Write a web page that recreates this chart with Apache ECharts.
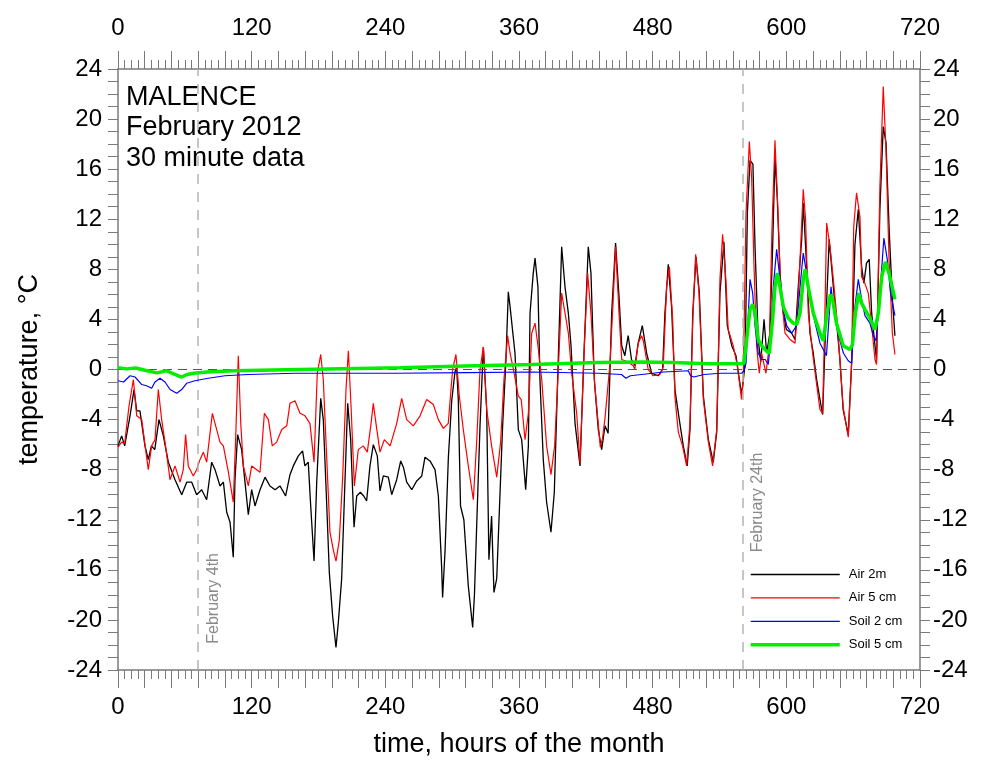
<!DOCTYPE html>
<html>
<head>
<meta charset="utf-8">
<script src="https://cdn.jsdelivr.net/npm/echarts@6/dist/echarts.min.js"></script>
<style>
  html, body { margin: 0; padding: 0; background: #fff; }
  #chart { width: 992px; height: 763px; }
</style>
</head>
<body>
<div id="chart"></div>
<script>
// Malence station, February 2012, 30 minute readings: [hour of month, °C]
const air2m = [[0,-6.1],[3.3,-5.3],[6,-6.1],[10.8,-3.7],[14.4,-1.6],[16.8,-3.3],[19.7,-3.3],[24.2,-6.1],[27.2,-7.2],[30,-6.1],[33,-6.4],[36.8,-4.0],[40.7,-5.3],[45.2,-7.4],[51.2,-8.8],[57.2,-10.0],[61.7,-9.0],[66.2,-9.0],[70.6,-10.0],[75.1,-9.6],[79.6,-10.4],[84.1,-7.4],[87.1,-8.0],[91.6,-9.3],[94.6,-9.0],[97.6,-11.4],[100.6,-12.2],[103.5,-15.0],[105,-8.8],[107.4,-5.2],[111,-6.4],[114,-9.0],[117,-11.6],[120,-9.6],[123,-10.9],[127.5,-9.6],[132,-8.6],[136.4,-9.3],[141,-9.6],[145.4,-9.3],[150.5,-10.1],[154.4,-8.4],[157.4,-7.7],[161.9,-6.9],[165.7,-6.5],[167.8,-7.7],[170.8,-7.4],[173,-10.9],[176,-15.3],[178.4,-9.0],[182,-2.3],[184.3,-4.0],[187.3,-10.6],[189.7,-16.2],[192.7,-19.7],[195.7,-22.2],[197.8,-20.2],[200.8,-16.7],[203.8,-8.8],[206.2,-2.7],[208.9,-5.6],[211.9,-12.6],[214.3,-10.1],[217.6,-9.8],[220.6,-10.1],[223.2,-10.5],[226.2,-7.7],[229.2,-6.0],[232.8,-6.9],[235.2,-9.7],[238.2,-8.5],[242.7,-8.6],[245.7,-10.0],[250.2,-8.8],[253.8,-7.3],[256.2,-7.8],[259.2,-9.0],[263.7,-9.6],[268.2,-8.9],[272.7,-8.5],[275.6,-7.0],[280.1,-7.3],[284.6,-8.0],[287.6,-10.1],[290.6,-15.9],[291.4,-18.2],[293.6,-14.5],[296.6,-7.0],[299.6,-2.5],[302.5,-0.2],[304,0.2],[305.5,-2.4],[307.5,-10.9],[310.5,-12.0],[314.5,-17.3],[318.4,-20.6],[320,-18.0],[322,-12.5],[325,-4.5],[328,1.8],[331,-3.2],[333,-15.2],[335.4,-11.7],[337.5,-17.8],[340,-16.7],[343,-9.8],[345.3,-4.5],[348.3,0.8],[350.4,6.2],[352,5.0],[356.4,1.3],[359.4,-4.8],[362.4,-5.6],[366,-9.6],[368.4,-6.1],[369.9,4.5],[372.8,7.7],[374.4,8.9],[377,6.6],[378.8,-0.8],[381.8,-7.2],[384.8,-10.6],[388.7,-13.0],[391.7,-9.8],[394.7,-0.8],[398.3,9.8],[401.3,6.6],[404.3,4.5],[406.7,1.9],[410.3,-4.3],[414.8,-7.7],[418.6,1.9],[422.2,9.8],[424.6,7.7],[427.6,-0.8],[431.2,-4.8],[434.2,-6.4],[437.2,-4.5],[440,-5.1],[443.2,4.5],[446.7,10.1],[449.8,5.8],[452.2,1.9],[455,1.1],[458,2.7],[461,0.8],[464.1,0.3],[467,2.1],[470.7,3.5],[474.6,1.3],[479,-0.3],[485,-0.5],[488.9,0],[491,4.5],[494,8.4],[497,5.0],[500,-1.6],[503.9,-4.0],[507.5,-6.1],[511,-7.7],[513.5,-4.8],[516,4.5],[518.9,9.0],[521.9,6.1],[525.5,-2.1],[530,-5.6],[534.4,-7.4],[537.5,-5.0],[540.4,6.1],[544,10.2],[547,3.5],[551,1.9],[554.8,1.1],[557.8,-0.8],[560,-2.0],[563,0.5],[565,12.5],[567.4,16.7],[570,16.4],[571.9,9.8],[574.8,2.4],[577,0.6],[580,4.0],[582.3,1.3],[585.3,2.9],[587.7,9.8],[589.8,17.0],[591.9,13.6],[594.3,7.7],[597.3,4.5],[600,3.2],[604.8,2.9],[607.8,2.4],[610.7,6.6],[613.8,10.4],[615.2,13.3],[617.6,9.3],[621.2,2.9],[624.2,1.3],[627.2,-0.8],[630.2,-2.4],[632.6,-3.6],[635.5,4.0],[638.5,10.4],[642.2,6.6],[645,3.9],[648.1,0.8],[651,-3.2],[655.6,-5.2],[658.6,0.5],[661.6,10.0],[664.6,12.8],[667.6,8.2],[669.6,6.9],[672,8.5],[674.4,8.8],[676.6,4.5],[679.6,1.9],[681,0.8],[684,12.8],[687,19.4],[689.5,18.1],[692.2,11.4],[695.2,5.6],[697.5,2.7]];

const air5cm = [[0,-6.2],[3.3,-5.8],[6,-5.9],[9.9,-2.9],[13.8,-0.8],[16.8,-3.7],[21.3,-4.0],[24.8,-6.4],[27.2,-8.0],[30.2,-6.1],[33.2,-5.6],[36.2,-1.6],[39.2,-4.0],[42.2,-5.8],[46.7,-8.8],[51.2,-7.7],[55.7,-9.0],[58.6,-8.0],[60.7,-5.2],[63.1,-7.7],[67.6,-8.5],[70.6,-8.0],[73.6,-7.2],[76.6,-6.6],[79.6,-7.4],[82.6,-5.1],[84.7,-3.5],[87.1,-4.3],[91.6,-5.8],[94.6,-6.1],[99.1,-8.2],[103.5,-10.6],[105.6,-5.6],[108,1.1],[110.2,-4.3],[112.5,-7.7],[117,-9.3],[120,-7.7],[124.5,-8.0],[127.5,-8.2],[131.4,-3.5],[135,-4.0],[138.5,-6.1],[142.4,-5.8],[147,-4.8],[151.5,-4.5],[154.4,-2.7],[158.9,-2.5],[163.4,-3.5],[167.9,-3.7],[172.3,-4.3],[176,-7.4],[178.9,-0.3],[182,1.2],[184.3,-0.8],[187.3,-6.9],[190.3,-13.0],[193.3,-14.4],[195.7,-15.3],[198.7,-13.6],[201.6,-8.8],[204.7,-1.6],[206.8,1.5],[209.2,-2.9],[212.2,-9.3],[215.7,-6.4],[220.2,-6.1],[223.8,-6.6],[227.2,-4.3],[229.2,-2.7],[231.6,-4.3],[235.2,-6.6],[239.1,-5.6],[244.3,-6.1],[250.2,-4.3],[254.7,-2.3],[259.2,-4.0],[265.1,-4.5],[271.2,-3.7],[277.1,-2.4],[283.1,-2.8],[287.6,-4.0],[292.1,-4.7],[296.5,-4.3],[300.4,0],[303.4,1.2],[306.4,-2.1],[310,-4.8],[314.5,-7.7],[319,-10.4],[322,-5.8],[325,0],[328,1.8],[331,-3.2],[335.4,-6.1],[340,-8.6],[343.5,-5.8],[346.5,-0.8],[349.8,2.7],[352,1.3],[355,0],[359.4,-2.1],[362,-2.4],[365.4,-5.6],[368.4,-3.5],[371.4,2.9],[374.4,3.7],[377,1.9],[380.4,-0.8],[384.8,-6.1],[388.7,-8.4],[392,-6.1],[395.3,0],[398.3,6.1],[401.3,4.5],[404.3,2.9],[407.3,-0.3],[411.8,-3.5],[414.8,-7.5],[418,0.5],[421.6,7.7],[424.6,4.5],[428,-1.2],[433,-6.2],[435,-5.5],[437.2,-3.9],[441.7,0.5],[444.7,5.8],[446.7,9.8],[449.8,4.5],[452.2,0.8],[458,0.6],[462.6,0.3],[464,0],[467,2.1],[470,2.7],[471.6,2.3],[476,0],[480.5,-0.5],[486.5,-0.4],[489.5,0.2],[492.5,6.6],[495,8.2],[498,3.9],[500,-2.2],[503,-5.0],[506.8,-6.1],[510.5,-7.7],[513.5,-4.3],[516,3.9],[518.6,9.2],[521.6,6.1],[525.5,-2.4],[530,-5.8],[533.8,-7.7],[537.5,-4.8],[540.4,7.2],[542.8,10.8],[545.7,7.2],[547.8,3.2],[552.3,1.9],[556,0.3],[559.8,-2.4],[561.3,-0.8],[563.8,12.5],[566.8,18.2],[568.9,15.2],[571,8.2],[573.3,1.9],[575.7,-0.3],[577.8,1.3],[581.7,-0.3],[584.7,1.9],[587.1,11.2],[589.8,18.3],[592.2,13.3],[594.9,6.6],[598.8,2.9],[603.3,2.4],[607.8,2.1],[609.9,4.5],[612.3,8.8],[615.2,14.4],[617.3,12.0],[619.7,4.5],[623.6,1.3],[626.6,-0.8],[630.2,-3.2],[632.6,-3.5],[634.5,4.0],[636.2,11.7],[639.2,9.8],[642.2,7.2],[645,4.5],[648.1,0.8],[651,-3.0],[655.6,-5.4],[658.6,0.5],[660.5,11.4],[663,14.1],[666.1,12.2],[667.6,7.4],[670,7.0],[673.6,6.1],[676.6,3.5],[679.6,0.8],[681,0.4],[684,14.6],[687,22.6],[689.5,17.5],[692.2,8.8],[695.2,2.9],[697.5,1.2]];

const soil2cm = [[0,-0.9],[5,-1.0],[10.8,-0.5],[15.3,-0.6],[21.3,-1.2],[25.7,-1.3],[30.2,-1.5],[33.2,-1.0],[37.7,-0.7],[42.2,-1.0],[46.7,-1.6],[52.7,-1.9],[57.2,-1.6],[61.6,-1.1],[69,-0.9],[81,-0.7],[96,-0.5],[117,-0.4],[159,-0.3],[250,-0.3],[313,-0.25],[371,-0.2],[431,-0.3],[452,-0.4],[456,-0.7],[460,-0.5],[470,-0.4],[490,-0.2],[512,-0.1],[514,-0.5],[517,-0.6],[526,-0.4],[541,-0.3],[560,-0.3],[562,-0.1],[563.8,0.5],[565.9,4.5],[567.4,7.2],[569.8,6.1],[571.9,3.5],[574.8,1.3],[577.8,0.8],[581,0.8],[583.8,0.4],[585.9,2.4],[588.3,6.6],[591.3,9.6],[593.7,7.7],[596.7,5.0],[600.3,3.5],[604.8,2.9],[609.3,3.5],[612.3,6.6],[615.2,9.3],[618.2,7.7],[622.7,5.0],[627.2,3.2],[630.2,2.1],[633.2,1.6],[636,1.1],[638.6,4.5],[640.1,6.6],[642.2,5.0],[646.8,2.7],[651.3,1.3],[655.6,0.7],[658.6,0.5],[661.6,5.0],[664.6,7.2],[667.6,5.6],[670.6,4.3],[675,3.7],[678.1,2.7],[680.5,2.3],[684,6.1],[687.6,10.5],[690.6,8.8],[693.6,6.1],[697.5,4.3]];

const soil5cm = [[0,0.15],[8,0.05],[16,0.12],[26,-0.1],[35,-0.27],[43.5,-0.1],[50,-0.35],[57,-0.6],[62,-0.4],[68,-0.3],[80,-0.2],[104,-0.1],[163,0],[253,0.13],[311,0.27],[371,0.4],[431,0.55],[470,0.6],[498,0.56],[530,0.45],[558,0.45],[562,0.5],[564.4,2.4],[567.4,4.8],[569.8,5.2],[571.9,4.5],[574.8,2.4],[577.8,1.9],[581.7,1.5],[584.7,1.3],[587.7,4.0],[589.8,6.6],[591.9,7.7],[594.3,6.6],[597.3,5.0],[601.8,4.1],[606.3,3.7],[609.3,3.6],[612.3,4.5],[615.2,7.2],[617,8.0],[619.7,6.6],[624.2,4.5],[630.2,2.9],[633.2,2.3],[636.2,4.3],[639.5,6.0],[641.6,5.6],[645,3.7],[651.1,1.9],[657,1.6],[659.4,2.0],[662,4.5],[665,6.1],[667.6,5.3],[670.6,4.8],[675,4.1],[679.6,3.2],[682.6,4.5],[685.6,7.4],[689,8.6],[693,7.4],[697.5,5.6]];

// day boundaries annotated on the plot
const dayMarkers = [{ hour: 72, text: 'February 4th', labelBase: -21.9 }, { hour: 561, text: 'February 24th', labelBase: -14.6 }];
const titleLines = ['MALENCE', 'February 2012', '30 minute data'];

const FONT = '"Liberation Sans", Arial, sans-serif';
const axisGray = '#7a7a7a';

const chart = echarts.init(document.getElementById('chart'), null, { renderer: 'canvas' });

function xAxisDef(pos) {
  return {
    type: 'value', position: pos, min: 0, max: 720, interval: 24,
    axisLine: { show: true, onZero: false, lineStyle: { color: axisGray, width: 1.5 } },
    axisTick: { show: true, inside: false, length: 18, lineStyle: { color: axisGray, width: 1 } },
    minorTick: { show: true, splitNumber: 4, length: 9, lineStyle: { color: axisGray, width: 1 } },
    splitLine: { show: false },
    axisLabel: {
      formatter: v => (v % 120 === 0 ? String(v) : ''),
      fontSize: 24, color: '#000', fontFamily: FONT,
      margin: pos === 'top' ? 29 : 25
    }
  };
}
function yAxisDef(pos) {
  return {
    type: 'value', position: pos, min: -24, max: 24, interval: 4,
    axisLine: { show: true, onZero: false, lineStyle: { color: axisGray, width: 1.5 } },
    axisTick: { show: true, inside: false, length: 10, lineStyle: { color: axisGray, width: 1 } },
    minorTick: { show: true, splitNumber: 4, length: 10, lineStyle: { color: axisGray, width: 1 } },
    splitLine: { show: false },
    axisLabel: { fontSize: 24, color: '#000', fontFamily: FONT, margin: pos === 'left' ? 16 : 13 }
  };
}

const xBottom = Object.assign(xAxisDef('bottom'), {
  name: 'time, hours of the month', nameLocation: 'middle', nameGap: 61,
  nameTextStyle: { fontSize: 27, color: '#000', fontFamily: FONT }
});
const yLeft = Object.assign(yAxisDef('left'), {
  name: 'temperature, °C', nameLocation: 'middle', nameGap: 75,
  nameTextStyle: { fontSize: 27, color: '#000', fontFamily: FONT }
});

function lineSeries(name, data, color, width, z) {
  return {
    name, type: 'line', data, xAxisIndex: 0, yAxisIndex: 0,
    symbol: 'none', smooth: false, z,
    lineStyle: { color, width }, itemStyle: { color },
    emphasis: { disabled: true }
  };
}

const series = [
  lineSeries('Air 2m', air2m, '#000000', 1.3, 3),
  lineSeries('Air 5 cm', air5cm, '#ff0000', 1.2, 4),
  lineSeries('Soil 2 cm', soil2cm, '#0000ff', 1.2, 5),
  lineSeries('Soil 5 cm', soil5cm, '#00ee00', 3.5, 6)
];
series[0].markLine = {
  silent: true, symbol: 'none', animation: false,
  label: { show: false },
  data: [
    { yAxis: 0, lineStyle: { color: '#555', type: [9, 6], width: 1 } },
    ...dayMarkers.map(d => ({ xAxis: d.hour, lineStyle: { color: '#b4b4b4', type: [10, 8], width: 1.5 } }))
  ]
};

chart.setOption({
  animation: false,
  backgroundColor: '#ffffff',
  grid: { left: 118, right: 72, top: 69, bottom: 92, containLabel: false },
  xAxis: [xBottom, xAxisDef('top')],
  yAxis: [yLeft, yAxisDef('right')],
  legend: {
    orient: 'vertical', left: 749, top: 568, padding: 0,
    itemWidth: 89, itemHeight: 14, itemGap: 10.4,
    itemStyle: { opacity: 0 },
    textStyle: { fontSize: 13, color: '#000', fontFamily: FONT, padding: [0, 0, 0, 4] },
    data: series.map(s => ({ name: s.name, lineStyle: { width: s.lineStyle.width, color: s.lineStyle.color } }))
  },
  series
});

// annotations placed through the axis scales
const grid0 = { xAxisIndex: 0, yAxisIndex: 0 };
const graphics = [];
const topLeft = chart.convertToPixel(grid0, [0, 24]);
titleLines.forEach((t, i) => {
  graphics.push({
    type: 'text', left: topLeft[0] + 8, top: topLeft[1] + 15 + i * 30.5, silent: true,
    style: { text: t, fontSize: 27, fill: '#000', fontFamily: FONT }
  });
});
dayMarkers.forEach(d => {
  const p = chart.convertToPixel(grid0, [d.hour, d.labelBase]);
  graphics.push({
    type: 'text', x: p[0] + 15, y: p[1], rotation: Math.PI / 2, silent: true,
    style: { text: d.text, fontSize: 16, fill: '#8a8a8a', fontFamily: FONT, align: 'left', verticalAlign: 'middle' }
  });
});
chart.setOption({ graphic: graphics });
</script>
</body>
</html>
